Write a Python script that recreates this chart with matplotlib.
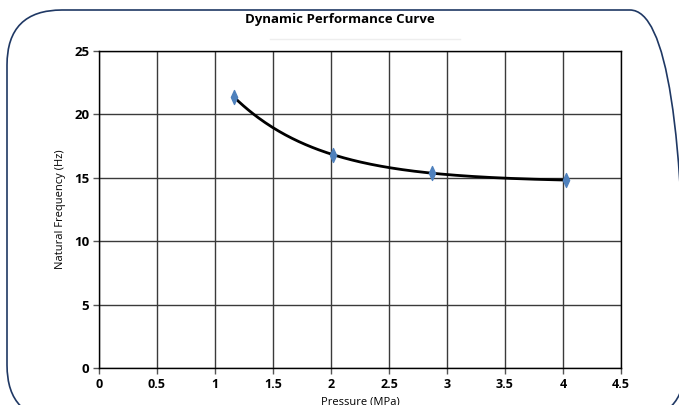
import matplotlib.pyplot as plt
import matplotlib.patches as patches
import matplotlib.transforms as mtransforms
from matplotlib.path import Path
import numpy as np

# Données
pression = [1.16, 2.02, 2.87, 4.03]
frequence = [21.4, 16.8, 15.4, 14.8]
x_ticks = [0, 0.5, 1, 1.5, 2, 2.5, 3, 3.5, 4, 4.5]
y_ticks = [0, 5, 10, 15, 20, 25]

plt.rcParams['font.family'] = ['Open Sans', 'DejaVu Sans']

fig = plt.figure(figsize=(6.79, 4.05), dpi=100)
ax = fig.add_axes([99 / 679, 1 - 368 / 405, 522 / 679, 317 / 405])

# Courbe de tendance : y = a + b*exp(-c*x), ajustée par moindres carrés
px = np.array(pression)
py = np.array(frequence)
meilleur = None
for c in np.linspace(0.3, 4, 400):
    A = np.column_stack([np.ones_like(px), np.exp(-c * px)])
    sol, res, _, _ = np.linalg.lstsq(A, py, rcond=None)
    err = np.sum((A @ sol - py) ** 2)
    if meilleur is None or err < meilleur[0]:
        meilleur = (err, c, sol)
_, c, (a, b) = meilleur
xs = np.linspace(px.min(), px.max(), 200)
ax.plot(xs, a + b * np.exp(-c * xs), color="black", lw=2, zorder=3)

# Marqueur losange étroit
losange = Path([(0, 1), (0.45, 0), (0, -1), (-0.45, 0), (0, 1)],
               [Path.MOVETO, Path.LINETO, Path.LINETO, Path.LINETO, Path.CLOSEPOLY])
ax.plot(pression, frequence, linestyle="none", marker=losange, ms=10,
        color="#4F81BD", markeredgecolor="#4F81BD", zorder=4)

ax.set_xlim(0, 4.5)
ax.set_ylim(0, 25)
ax.set_xticks(x_ticks)
ax.set_yticks(y_ticks)
ax.set_xticklabels([f"{v:g}" for v in x_ticks], fontweight="bold", fontsize=9)
ax.set_yticklabels([str(v) for v in y_ticks], fontweight="bold", fontsize=9.5)
ax.tick_params(length=4, width=1, color="#555555", pad=3)
ax.grid(True, color="#3a3a3a", lw=1)
ax.set_axisbelow(True)
for s in ax.spines.values():
    s.set_color("black")
    s.set_linewidth(1)

ax.set_xlabel("Pressure (MPa)", fontsize=8, labelpad=4)
ax.set_ylabel("Natural Frequency (Hz)", fontsize=8, labelpad=6)

fig.text(0.5, 1 - 20 / 405, "Dynamic Performance Curve", ha="center", va="center",
         fontsize=9.5, fontweight="bold")
fig.add_artist(plt.Line2D([270 / 679, 460 / 679], [1 - 39 / 405] * 2,
                          color="#eeeeee", lw=1, transform=fig.transFigure))

# Cadre arrondi autour du graphique (coordonnées en pixels)
cadre = patches.FancyBboxPatch((7, -15), 678, 410,
                               boxstyle="round,pad=0,rounding_size=55",
                               transform=mtransforms.IdentityTransform(),
                               facecolor="none", edgecolor="#1F3864", lw=1.2)
fig.patches.append(cadre)

fig.savefig("out.png", dpi=100)
